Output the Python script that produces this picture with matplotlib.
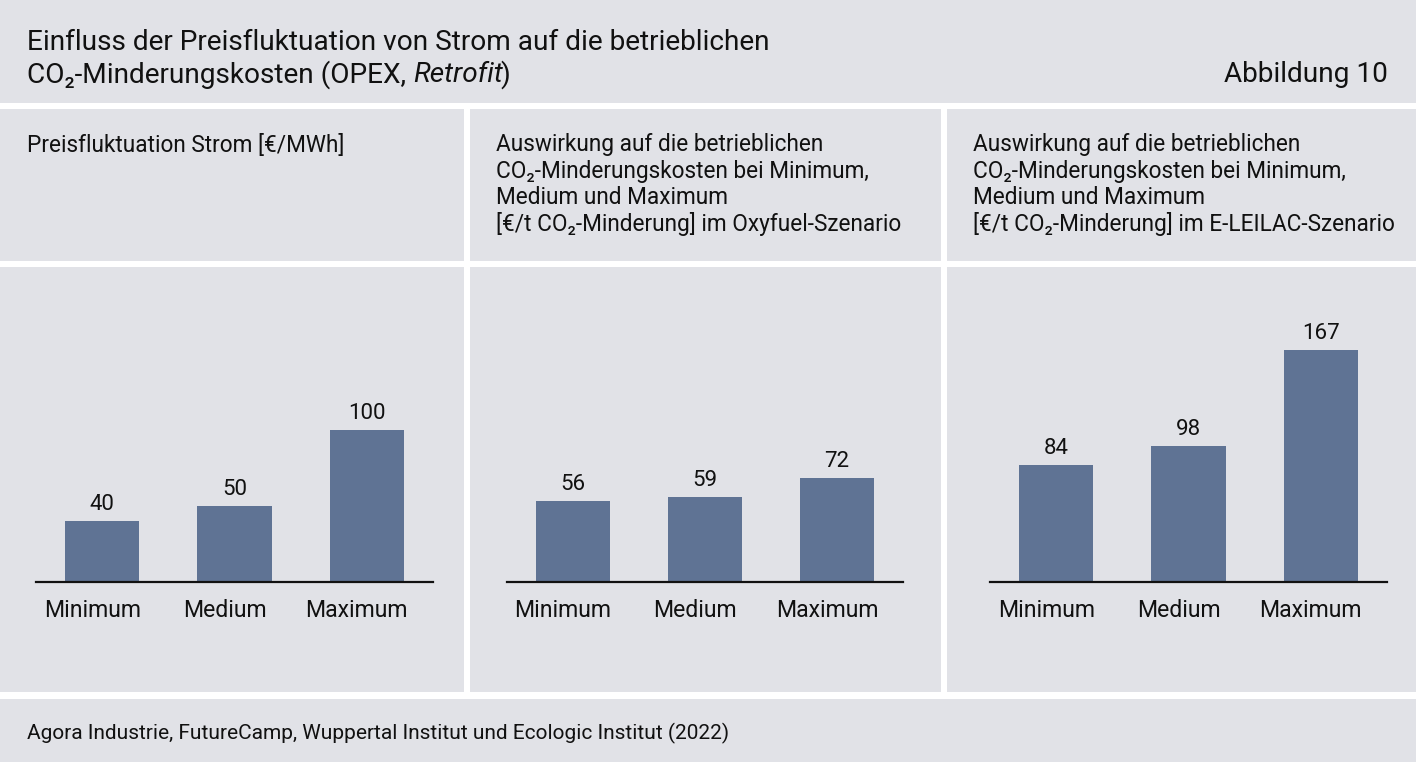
import matplotlib
matplotlib.use("Agg")
import matplotlib.pyplot as plt
from matplotlib.patches import Rectangle
from matplotlib.transforms import ScaledTranslation

plt.rcParams['font.family'] = ['Roboto', 'DejaVu Sans']

# Daten
categories = ['Minimum', 'Medium', 'Maximum']
strom_preis = [40, 50, 100]          # €/MWh
oxyfuel_kosten = [56, 59, 72]        # €/t CO2-Minderung
leilac_kosten = [84, 98, 167]        # €/t CO2-Minderung

title_line1 = 'Einfluss der Preisfluktuation von Strom auf die betrieblichen'
title_line2a = 'CO₂-Minderungskosten (OPEX, '
title_line2b = 'Retrofit'
title_line2c = ')'
figure_label = 'Abbildung 10'
panel_titles = [
    ['Preisfluktuation Strom [€/MWh]'],
    ['Auswirkung auf die betrieblichen', 'CO₂-Minderungskosten bei Minimum,',
     'Medium und Maximum', '[€/t CO₂-Minderung] im Oxyfuel-Szenario'],
    ['Auswirkung auf die betrieblichen', 'CO₂-Minderungskosten bei Minimum,',
     'Medium und Maximum', '[€/t CO₂-Minderung] im E-LEILAC-Szenario'],
]
source = 'Agora Industrie, FutureCamp, Wuppertal Institut und Ecologic Institut (2022)'

BG = '#e1e2e7'
BAR = '#5f7394'
TXT = '#111111'
W, H = 1416, 762

fig = plt.figure(figsize=(W / 100, H / 100), dpi=100, facecolor='white')

# Hintergrund-Achse in Pixelkoordinaten
bg = fig.add_axes([0, 0, 1, 1])
bg.set_xlim(0, W)
bg.set_ylim(H, 0)
bg.axis('off')

cols = [(0, 464), (470, 941), (947, W)]
bg.add_patch(Rectangle((0, 0), W, 103, color=BG, lw=0))
for x0, x1 in cols:
    bg.add_patch(Rectangle((x0, 109), x1 - x0, 261 - 109, color=BG, lw=0))
    bg.add_patch(Rectangle((x0, 267), x1 - x0, 692 - 267, color=BG, lw=0))
bg.add_patch(Rectangle((0, 699), W, H - 699, color=BG, lw=0))

# Titel
tsize = 20.2
bg.text(27, 42, title_line1, fontsize=tsize, va='center', ha='left', color=TXT)
t1 = bg.text(27, 75, title_line2a, fontsize=tsize, va='center', ha='left', color=TXT)
fig.canvas.draw()
r = fig.canvas.get_renderer()
x_next = bg.transData.inverted().transform((t1.get_window_extent(r).x1, 0))[0]
t2 = bg.text(x_next, 75, title_line2b, fontsize=tsize, va='center', ha='left',
             style='italic', color=TXT)
fig.canvas.draw()
x_next = bg.transData.inverted().transform((t2.get_window_extent(r).x1, 0))[0]
bg.text(x_next - 2, 75, title_line2c, fontsize=tsize, va='center', ha='left', color=TXT)
bg.text(1388, 75, figure_label, fontsize=tsize, va='center', ha='right', color=TXT)

# Spaltentitel
text_x = [27, 496, 973]
for tx, lines in zip(text_x, panel_titles):
    for i, line in enumerate(lines):
        bg.text(tx, 145 + i * 26.3, line, fontsize=16.3, va='center', ha='left', color=TXT)

# Quelle
bg.text(27, 733, source, fontsize=15, va='center', ha='left', color=TXT)

# Balkendiagramme
axis_x = [(36, 433), (507, 903), (990, 1387)]
ymax = [185.5, 195.8, 202.9]
datasets = [strom_preis, oxyfuel_kosten, leilac_kosten]
base_y = 582
top_y = 300
shift = ScaledTranslation(-10 / 100, 0, fig.dpi_scale_trans)
for (x0, x1), vals, ym in zip(axis_x, datasets, ymax):
    ax = fig.add_axes([x0 / W, 1 - base_y / H, (x1 - x0) / W, (base_y - top_y) / H])
    ax.patch.set_alpha(0)
    xs = range(len(categories))
    ax.bar(xs, vals, width=0.56, color=BAR)
    ax.set_xlim(-0.5, 2.5)
    ax.set_ylim(0, ym)
    for xi, v in zip(xs, vals):
        ax.text(xi, v + ym * 0.022, str(v), ha='center', va='bottom', fontsize=16, color=TXT)
    for s in ['top', 'right', 'left']:
        ax.spines[s].set_visible(False)
    ax.spines['bottom'].set_linewidth(1.6)
    ax.spines['bottom'].set_color(TXT)
    ax.set_yticks([])
    ax.set_xticks(list(xs))
    ax.set_xticklabels(categories, fontsize=16.6, color=TXT)
    ax.tick_params(axis='x', length=0, pad=12)
    for lab in ax.get_xticklabels():
        lab.set_transform(lab.get_transform() + shift)

fig.savefig('out.png', dpi=100, facecolor='white')
